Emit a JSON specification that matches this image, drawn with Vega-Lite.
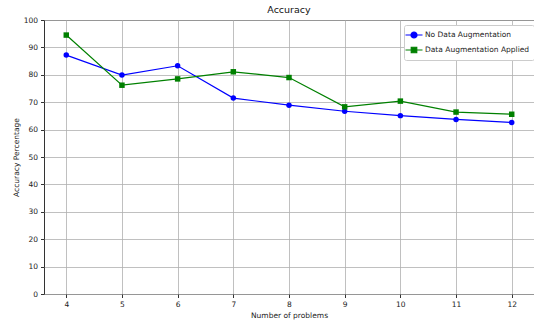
{
  "$schema": "https://vega.github.io/schema/vega-lite/v6.json",
  "width": 490,
  "height": 274,
  "autosize": {"type": "none"},
  "padding": {"left": 44, "top": 20, "right": 0, "bottom": 26},
  "background": "white",
  "config": {
    "font": "DejaVu Sans",
    "view": {"stroke": "#333", "strokeWidth": 1},
    "axis": {
      "domain": false,
      "grid": true,
      "gridColor": "#b0b0b0",
      "gridWidth": 0.8,
      "tickColor": "#333",
      "tickSize": 3.5,
      "labelColor": "#222",
      "labelFontSize": 7.5,
      "titleFontSize": 7.5,
      "titleFontWeight": "normal",
      "titleColor": "#222"
    }
  },
  "title": {"text": "Accuracy", "fontSize": 9.5, "fontWeight": "normal", "color": "#111", "offset": 2},
  "data": {
    "values": [
      {"problems": 4, "accuracy": 87.2, "series": "No Data Augmentation"},
      {"problems": 5, "accuracy": 79.9, "series": "No Data Augmentation"},
      {"problems": 6, "accuracy": 83.3, "series": "No Data Augmentation"},
      {"problems": 7, "accuracy": 71.5, "series": "No Data Augmentation"},
      {"problems": 8, "accuracy": 68.9, "series": "No Data Augmentation"},
      {"problems": 9, "accuracy": 66.7, "series": "No Data Augmentation"},
      {"problems": 10, "accuracy": 65.1, "series": "No Data Augmentation"},
      {"problems": 11, "accuracy": 63.7, "series": "No Data Augmentation"},
      {"problems": 12, "accuracy": 62.6, "series": "No Data Augmentation"},
      {"problems": 4, "accuracy": 94.5, "series": "Data Augmentation Applied"},
      {"problems": 5, "accuracy": 76.2, "series": "Data Augmentation Applied"},
      {"problems": 6, "accuracy": 78.5, "series": "Data Augmentation Applied"},
      {"problems": 7, "accuracy": 81.1, "series": "Data Augmentation Applied"},
      {"problems": 8, "accuracy": 79.0, "series": "Data Augmentation Applied"},
      {"problems": 9, "accuracy": 68.3, "series": "Data Augmentation Applied"},
      {"problems": 10, "accuracy": 70.4, "series": "Data Augmentation Applied"},
      {"problems": 11, "accuracy": 66.4, "series": "Data Augmentation Applied"},
      {"problems": 12, "accuracy": 65.6, "series": "Data Augmentation Applied"}
    ]
  },
  "encoding": {
    "x": {
      "field": "problems", "type": "quantitative",
      "scale": {"domain": [3.6, 12.4], "nice": false, "zero": false},
      "axis": {"values": [4, 5, 6, 7, 8, 9, 10, 11, 12], "title": "Number of problems", "titlePadding": 3, "labelPadding": 3}
    },
    "y": {
      "field": "accuracy", "type": "quantitative",
      "scale": {"domain": [0, 100], "nice": false},
      "axis": {"values": [0, 10, 20, 30, 40, 50, 60, 70, 80, 90, 100], "title": "Accuracy Percentage", "titlePadding": 3, "labelPadding": 3}
    },
    "color": {
      "field": "series", "type": "nominal",
      "scale": {"domain": ["No Data Augmentation", "Data Augmentation Applied"], "range": ["#0000ff", "#008000"]},
      "legend": {
        "title": null,
        "orient": "none",
        "legendX": 360,
        "legendY": 5,
        "padding": 4,
        "strokeColor": "#cccccc",
        "fillColor": "white",
        "cornerRadius": 2,
        "labelFontSize": 7.5,
        "labelColor": "#222",
        "symbolSize": 100,
        "symbolStrokeWidth": 1.2,
        "rowPadding": 3,
        "labelOffset": 5,
        "encode": {
          "symbols": {
            "update": {
              "shape": {"signal": "datum.value === 'No Data Augmentation' ? 'M-1.7,0L1.7,0M0.6,0A0.6,0.6,0,1,1,-0.6,0A0.6,0.6,0,1,1,0.6,0Z' : 'M-1.7,0L1.7,0M-0.55,-0.55L0.55,-0.55L0.55,0.55L-0.55,0.55Z'"},
              "fill": {"signal": "datum.value === 'No Data Augmentation' ? '#0000ff' : '#008000'"},
              "stroke": {"signal": "datum.value === 'No Data Augmentation' ? '#0000ff' : '#008000'"},
              "opacity": {"value": 1}
            }
          }
        }
      }
    }
  },
  "layer": [
    {"mark": {"type": "line", "strokeWidth": 1.2}},
    {
      "transform": [{"filter": "datum.series === 'No Data Augmentation'"}],
      "mark": {"type": "point", "filled": true, "opacity": 1, "size": 30, "shape": "circle"}
    },
    {
      "transform": [{"filter": "datum.series === 'Data Augmentation Applied'"}],
      "mark": {"type": "point", "filled": true, "opacity": 1, "size": 30, "shape": "square"}
    }
  ]
}
